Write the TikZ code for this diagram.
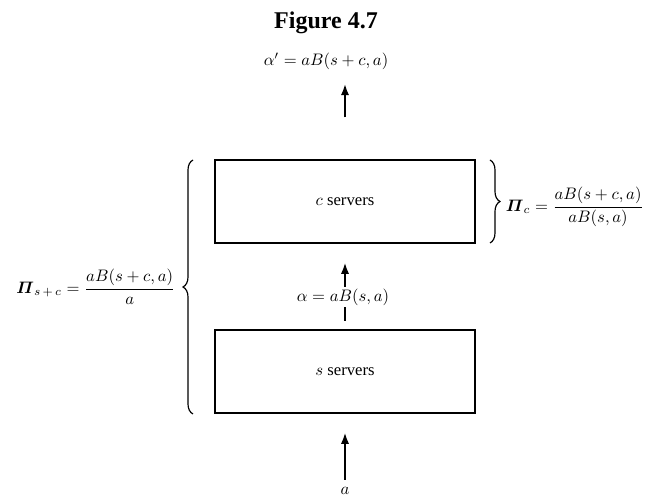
\documentclass[tikz,border=0pt]{standalone}
\usepackage{fontspec}
\setmainfont{Liberation Serif}
\usepackage{amsmath}
\usetikzlibrary{arrows.meta,decorations.pathreplacing}

\begin{document}
\begin{tikzpicture}[x=0.6pt,y=-0.6pt,
		server/.style={draw, line width=0.9pt, minimum width=156pt, minimum height=50pt},
		flow/.style={line width=1.4pt, -{Latex[length=7pt,width=5pt]}},
		grp/.style={line width=0.7pt, decorate, decoration={brace, amplitude=6pt}}]
	\useasboundingbox (0,0) rectangle (654,499);
	\node[font=\Large\bfseries] (title) at (326,23) {Figure 4.7};
	\node (outlbl) at (326,61) {$\alpha' = aB(s+c,a)$};
	\node[server] (cserv) at (345,201.5) {$c$ servers};
	\node[server] (sserv) at (345,371.5) {$s$ servers};
	\node (inlbl) at (345,491) {$a$};
	\coordinate (outend) at (outlbl.south -| cserv.north);
	\coordinate (ctop) at (490,160);
	\coordinate (cbot) at (490,243);
	\coordinate (stop) at (193,160);
	\coordinate (sbot) at (193,414);
	\draw[flow, shorten <=25pt, shorten >=5pt] (cserv.north) -- (outend);
	\draw[flow, shorten <=5pt, shorten >=11pt] (sserv.north) -- (cserv.south);
	\node[fill=white, inner sep=1pt] (midlbl) at (343,297) {$\alpha = aB(s,a)$};
	\draw[flow, shorten <=1pt, shorten >=11pt] (inlbl) -- (sserv.south);
	\draw[grp] (ctop) -- (cbot);
	\draw[grp] (sbot) -- (stop);
	\node[anchor=west] (pic) at (500,207) {$\boldsymbol{\varPi}_{c} = \dfrac{aB(s+c,a)}{aB(s,a)}$};
	\node[anchor=east] (pisc) at (181,287) {$\boldsymbol{\varPi}_{s\,+\,c} = \dfrac{aB(s+c,a)}{a}$};
\end{tikzpicture}
\end{document}
